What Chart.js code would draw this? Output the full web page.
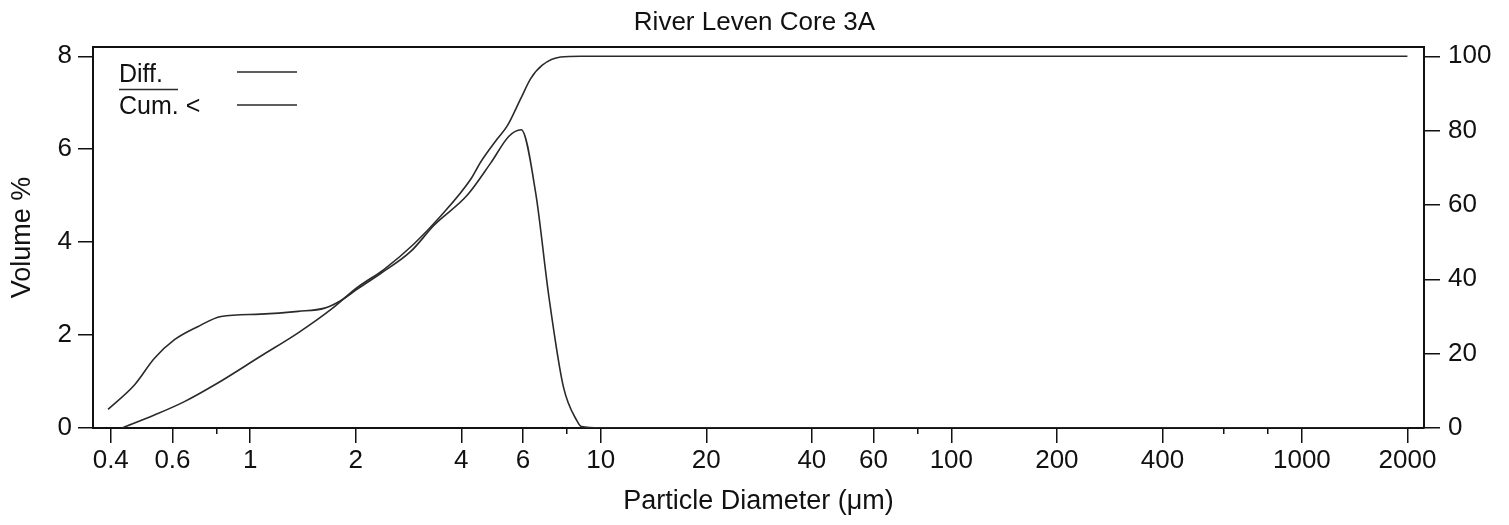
<!DOCTYPE html>
<html>
<head>
<meta charset="utf-8">
<title>River Leven Core 3A</title>
<script src="https://cdn.jsdelivr.net/npm/chart.js@4.4.1/dist/chart.umd.min.js"></script>
<style>
  html, body { margin: 0; padding: 0; background: #fff; }
  #wrap { width: 1509px; height: 525px; }
</style>
</head>
<body>
<div id="wrap"><canvas id="chart" width="1509" height="525"></canvas></div>
<script>
// particle size distribution
const diffSizes  = [0.393, 0.468, 0.533, 0.608, 0.708, 0.826, 1.07, 1.37, 1.63, 1.81, 2.02, 2.36, 2.87, 3.35, 4.17, 4.85, 5.47, 5.93, 6.52, 7.11, 7.82, 8.57, 8.8, 10, 2000];
const diffValues = [0.40, 0.93, 1.50, 1.90, 2.18, 2.40, 2.45, 2.51, 2.58, 2.74, 2.99, 3.33, 3.80, 4.37, 5.02, 5.70, 6.28, 6.42, 5.06, 2.83, 0.89, 0.14, 0.03, 0, 0];

const cumSizes  = [0.43, 0.533, 0.649, 0.808, 1.07, 1.37, 1.70, 2.02, 2.41, 2.93, 3.50, 4.26, 4.54, 5.07, 5.42, 5.91, 6.31, 6.81, 7.68, 8.77, 2000];
const cumValues = [0, 3.5, 7.1, 12.1, 19.3, 25.6, 31.9, 37.8, 42.7, 49.5, 57.1, 67.0, 71.5, 77.8, 81.4, 88.6, 94.0, 97.6, 99.8, 100, 100];

const majorTicks = [0.4, 0.6, 1, 2, 4, 6, 10, 20, 40, 60, 100, 200, 400, 1000, 2000];
const minorTicks = [0.8, 8, 80, 600, 800];
const leftTicks  = [0, 2, 4, 6, 8];
const rightTicks = [0, 20, 40, 60, 80, 100];

const FONT = "'Liberation Sans', Arial, Helvetica, sans-serif";
const INK = '#111';
const LINE = '#2a2a2a';

const toPts = (xs, ys) => xs.map((x, i) => ({ x: x, y: ys[i] }));
const fixTicks = list => scale => { scale.ticks = list.map(v => ({ value: v })); };

// legend drawn inside the plot, text first then a line sample
const innerLegend = {
  id: 'innerLegend',
  afterDraw(chart){
    const { ctx, chartArea: a } = chart;
    const tx = a.left + 26, sx1 = a.left + 144, sx2 = a.left + 204;
    ctx.save();
    ctx.font = '25px ' + FONT;
    ctx.fillStyle = INK;
    ctx.textBaseline = 'alphabetic';
    ctx.fillText('Diff.', tx, a.top + 35);
    ctx.fillText('Cum. <', tx, a.top + 67);
    ctx.strokeStyle = LINE; ctx.lineWidth = 1.5;
    ctx.beginPath();
    ctx.moveTo(tx, a.top + 42.5); ctx.lineTo(tx + 59, a.top + 42.5);   // rule under "Diff."
    ctx.moveTo(sx1, a.top + 25); ctx.lineTo(sx2, a.top + 25);
    ctx.moveTo(sx1, a.top + 58); ctx.lineTo(sx2, a.top + 58);
    ctx.stroke();
    ctx.restore();
  }
};

new Chart(document.getElementById('chart'), {
  type: 'line',
  data: {
    datasets: [
      { label: 'Diff.', data: toPts(diffSizes, diffValues), xAxisID: 'x', yAxisID: 'y',
        borderColor: LINE, borderWidth: 1.6, pointRadius: 0, cubicInterpolationMode: 'monotone', fill: false },
      { label: 'Cum. <', data: toPts(cumSizes, cumValues), xAxisID: 'x', yAxisID: 'y2',
        borderColor: LINE, borderWidth: 1.6, pointRadius: 0, cubicInterpolationMode: 'monotone', fill: false }
    ]
  },
  options: {
    responsive: false,
    animation: false,
    layout: { padding: 0 },
    plugins: {
      legend: { display: false },
      tooltip: { enabled: false },
      title: { display: true, text: 'River Leven Core 3A', color: INK,
        font: { family: FONT, size: 26, weight: 'normal', lineHeight: 1.2 },
        padding: { top: 7, bottom: 8.8 } }
    },
    scales: {
      x: {
        type: 'logarithmic', position: 'bottom', min: 0.356, max: 2230, weight: 1,
        afterBuildTicks: fixTicks(majorTicks),
        afterFit: s => { s.height = 97; },
        grid: { drawOnChartArea: false, tickLength: 15, color: INK, lineWidth: 1.5 },
        border: { color: INK, width: 2 },
        ticks: { autoSkip: false, maxRotation: 0, padding: 2, color: INK,
          font: { family: FONT, size: 26 }, callback: v => String(v) },
        title: { display: true, text: 'Particle Diameter (μm)', color: INK,
          font: { family: FONT, size: 27 }, padding: { top: 0, bottom: 7 } }
      },
      xm: {
        type: 'logarithmic', position: 'bottom', min: 0.356, max: 2230, weight: 0,
        afterBuildTicks: fixTicks(minorTicks),
        afterFit: s => { s.height = 0; },
        grid: { drawOnChartArea: false, tickLength: 6, color: INK, lineWidth: 1.5 },
        border: { display: false },
        ticks: { display: false }
      },
      xt: {
        type: 'linear', position: 'top', min: 0, max: 1,
        afterFit: s => { s.height = 0; },
        grid: { display: false },
        border: { color: INK, width: 2 },
        ticks: { display: false }
      },
      y: {
        type: 'linear', position: 'left', min: 0, max: 8.2,
        afterBuildTicks: fixTicks(leftTicks),
        afterFit: s => { s.width = 93; },
        grid: { drawOnChartArea: false, tickLength: 15, color: INK, lineWidth: 1.5 },
        border: { color: INK, width: 2 },
        ticks: { padding: 6, color: INK, font: { family: FONT, size: 26 } },
        title: { display: true, text: 'Volume %', color: INK,
          font: { family: FONT, size: 27 }, padding: { top: 6, bottom: 0 } }
      },
      y2: {
        type: 'linear', position: 'right', min: 0, max: 102.5,
        afterBuildTicks: fixTicks(rightTicks),
        afterFit: s => { s.width = 85; },
        grid: { drawOnChartArea: false, tickLength: 16, color: INK, lineWidth: 1.5 },
        border: { color: INK, width: 2 },
        ticks: { padding: 8, color: INK, font: { family: FONT, size: 26 } }
      }
    }
  },
  plugins: [innerLegend]
});
</script>
</body>
</html>
